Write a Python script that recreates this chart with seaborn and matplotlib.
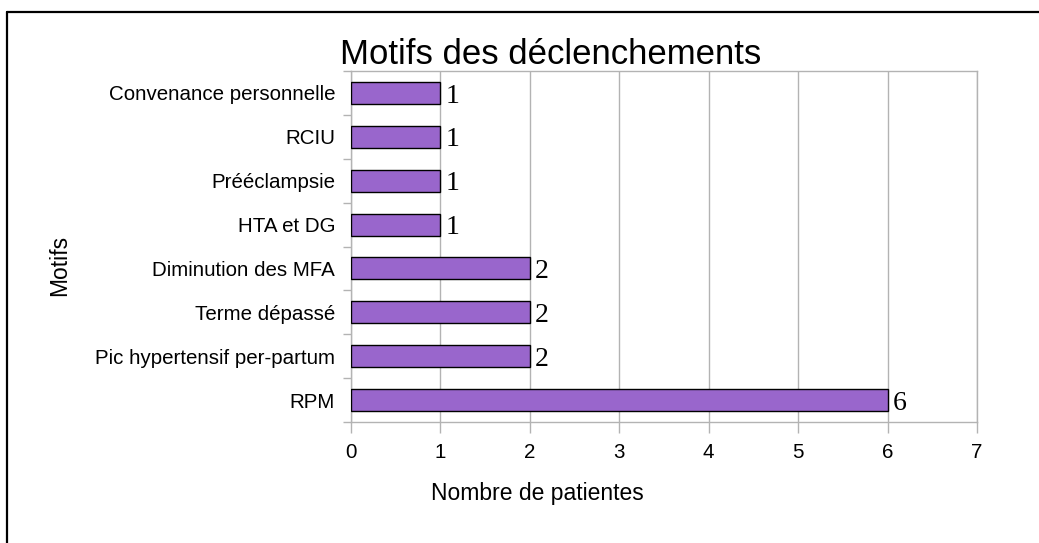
import matplotlib
matplotlib.use("Agg")
import matplotlib.pyplot as plt
import seaborn as sns
import pandas as pd
import numpy as np
from matplotlib.lines import Line2D

categories = ["Convenance personnelle", "RCIU", "Prééclampsie", "HTA et DG",
              "Diminution des MFA", "Terme dépassé", "Pic hypertensif per-partum", "RPM"]
values = [1, 1, 1, 1, 2, 2, 2, 6]
x_ticks = [0, 1, 2, 3, 4, 5, 6, 7]

title = "Motifs des déclenchements"
xlabel = "Nombre de patientes"
ylabel = "Motifs"

sns.set_theme(style="white")
plt.rcParams['font.family'] = ['Liberation Sans', 'DejaVu Sans']
plt.rcParams['text.color'] = 'black'
plt.rcParams['axes.labelcolor'] = 'black'
plt.rcParams['xtick.color'] = 'black'
plt.rcParams['ytick.color'] = 'black'

W, H = 1039, 543
fig = plt.figure(figsize=(W / 100, H / 100), dpi=100)
ax = fig.add_axes([351 / W, 1 - 422 / H, 626 / W, 351 / H])

df = pd.DataFrame({"cat": categories, "val": values})
sns.barplot(data=df, x="val", y="cat", orient="h", color="#9966cc", saturation=1,
            width=0.5, edgecolor="black", linewidth=1.0, ax=ax, zorder=3)

ax.set_xlim(0, 7)
ax.set_ylim(len(categories) - 0.5, -0.5)
ax.set_xticks(x_ticks)
ax.set_xticklabels([str(t) for t in x_ticks], fontsize=14.8)
ax.set_yticks(range(len(categories)))
ax.set_yticklabels(categories, fontsize=14.8)
ax.set_yticks(np.arange(-0.5, len(categories) + 0.5, 1), minor=True)

gray = "#b3b3b3"
ax.tick_params(axis="y", which="major", length=0, pad=11.5, labelcolor="black")
ax.tick_params(axis="y", which="minor", length=6, width=1, color=gray, left=True, direction="out")
ax.tick_params(axis="x", which="major", length=8, width=1, color=gray, bottom=True,
               direction="out", pad=7, labelcolor="black")
ax.grid(axis="x", color=gray, linewidth=1, zorder=0)
ax.grid(axis="y", visible=False)
ax.set_axisbelow(True)
for s in ax.spines.values():
    s.set_color(gray)
    s.set_linewidth(1)

ax.set_xlabel("")
ax.set_ylabel("")

for i, v in enumerate(values):
    ax.annotate(str(v), xy=(v, i), xytext=(3.5, -6.9), textcoords="offset points",
                ha="left", va="baseline", fontsize=20, family="Liberation Serif",
                color="black")

fig.text(551 / W, 1 - 64 / H, title, fontsize=25, ha="center", va="baseline", color="black")
fig.text(537 / W, 1 - 500 / H, xlabel, fontsize=16.5, ha="center", va="baseline", color="black")
fig.text(60 / W, 1 - 265 / H, ylabel, fontsize=16.5, ha="center", va="center", rotation=90,
         color="black")

# partial outer frame (left and top)
fig.add_artist(Line2D([7 / W, 7 / W], [0, 1 - 12 / H], transform=fig.transFigure,
                      color="black", linewidth=1.6))
fig.add_artist(Line2D([7 / W, 1], [1 - 12 / H, 1 - 12 / H], transform=fig.transFigure,
                      color="black", linewidth=1.6))

fig.savefig("out.png", dpi=100, facecolor="white")
